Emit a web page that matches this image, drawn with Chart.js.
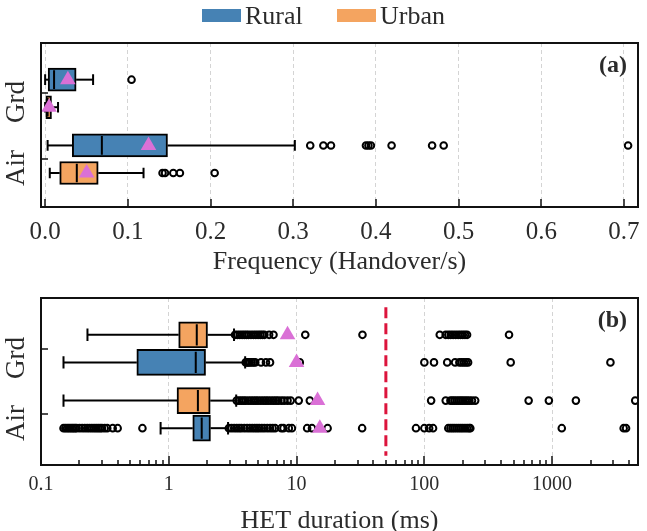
<!DOCTYPE html>
<html lang="en">
<head>
    <meta charset="UTF-8">
    <title>Handover frequency and HET duration</title>
    <script src="https://cdn.jsdelivr.net/npm/chart.js@4.4.1/dist/chart.umd.min.js"></script>
    <style>
        body { margin: 0; background: #fff; }
        #wrap { position: relative; width: 647px; height: 531px; font-family: "Liberation Serif", serif; color: #2b2b2b; }
        #freqChart { position: absolute; left: 0; top: 0; }
        #hetChart { position: absolute; left: 0; top: 275px; }
        .key { position: absolute; top: 9px; width: 39px; height: 13px; }
        .keytext { position: absolute; top: 3px; font-size: 26px; line-height: 26px; }
    </style>
</head>
<body>
<div id="wrap">
    <canvas id="freqChart" width="647" height="282"></canvas>
    <canvas id="hetChart" width="647" height="256"></canvas>
    <div class="key" style="left:202px;background:#4682b4"></div>
    <div class="keytext" style="left:245px">Rural</div>
    <div class="key" style="left:337px;background:#f4a460"></div>
    <div class="keytext" style="left:380px">Urban</div>
</div>
<script>
    // ---- panel (a): handover frequency, rows top to bottom
    const freqRows = ['Grd Rural', 'Grd Urban', 'Air Rural', 'Air Urban'];
    const freqLow = [0.0, 0.0, 0.003, 0.0056];
    const freqQ1 = [0.0036, 0.0008, 0.0328, 0.0176];
    const freqMedian = [0.0108, 0.003, 0.0686, 0.0383];
    const freqQ3 = [0.0375, 0.0077, 0.148, 0.0642];
    const freqHigh = [0.058, 0.0156, 0.302, 0.119];
    const freqMean = [0.0275, 0.0048, 0.125, 0.0502];
    const freqOutGrdRural = [0.1045];
    const freqOutGrdUrban = [];
    const freqOutAirRural = [0.3206, 0.3365, 0.3457, 0.388, 0.391, 0.394, 0.419, 0.468, 0.482, 0.705];
    const freqOutAirUrban = [0.142, 0.145, 0.155, 0.163, 0.205];
    const freqTicks = [0, 0.1, 0.2, 0.3, 0.4, 0.5, 0.6, 0.7];

    // ---- panel (b): HET duration in ms, rows top to bottom
    const hetRows = ['Grd Urban', 'Grd Rural', 'Air Urban', 'Air Rural'];
    const hetLow = [0.231, 0.150, 0.150, 0.863];
    const hetQ1 = [1.195, 0.562, 1.16, 1.54];
    const hetMedian = [1.656, 1.626, 1.69, 1.81];
    const hetQ3 = [2.01, 1.94, 2.11, 2.12];
    const hetHigh = [3.24, 3.96, 3.37, 2.91];
    const hetMean = [8.5, 10.0, 14.6, 15.2];
    const hetOutGrdUrban = [3.3, 3.45, 3.6, 3.75, 3.9, 4.05, 4.2, 4.4, 4.6, 4.8, 5.0, 5.2, 5.4, 5.6, 6.1, 6.6,
        11.7, 32.8, 132, 147, 154, 161, 168, 176, 184, 192, 200, 208, 216, 460];
    const hetOutGrdRural = [4.0, 4.1, 4.2, 4.3, 4.45, 4.6, 4.75, 5.27, 5.76, 6.2, 10.6,
        100, 119, 151, 174, 188, 196, 204, 212, 220, 474, 2860];
    const hetOutAirUrban = [3.4, 3.55, 3.7, 3.85, 4.0, 4.2, 4.4, 4.6, 4.8, 5.0, 5.25, 5.5, 5.75, 6.0, 6.3, 6.6,
        6.9, 7.2, 7.6, 8.0, 8.5, 9.0, 10.4, 12.7, 113, 147, 160, 166, 172, 179, 186, 193, 200, 208, 216, 225,
        236, 250, 655, 943, 1535, 4470];
    const hetOutAirRural = [0.15, 0.155, 0.16, 0.165, 0.17, 0.175, 0.18, 0.185, 0.19, 0.2, 0.21, 0.22, 0.23,
        0.24, 0.25, 0.26, 0.27, 0.28, 0.29, 0.3, 0.315, 0.33, 0.364, 0.398, 0.622,
        2.95, 3.1, 3.25, 3.4, 3.55, 3.7, 3.9, 4.1, 4.3, 4.5, 4.7, 4.9, 5.1, 5.35, 5.6, 5.9, 6.2, 6.5, 6.8,
        7.6, 7.9, 8.7, 9.2, 12.1, 13.2, 17.5, 32.6, 86, 100, 109, 117, 154, 160, 166, 172, 179, 186, 193,
        200, 208, 216, 224, 229, 1190, 3630, 3790];
    const hetDecades = [0.1, 1, 10, 100, 1000];
    const hetThreshold = 50;

    const categories = ['Grd', 'Air'];

    // ---- look
    const RURAL = '#4682b4', URBAN = '#f4a460', MEAN = '#da70d6', TEXT = '#2b2b2b';
    const FONT = '"Liberation Serif", serif';
    const rowPos = [31, 62, 105, 136];      // row centres inside plot area (px from top)
    const catPos = [46.5, 120.5];           // y tick for each category

    function segment(pts, order) {
        return {
            type: 'scatter', showLine: true, order: order,
            data: pts.map(p => ({x: p[0], y: p[1]})),
            borderColor: '#000', borderWidth: 2, pointRadius: 0, pointHoverRadius: 0, fill: false
        };
    }

    function boxDatasets(p) {
        var ds = [];
        ds.push({
            type: 'scatter', order: 0,
            data: p.mean.map((v, i) => ({x: v, y: rowPos[i]})),
            pointStyle: 'triangle', pointRadius: 9, borderWidth: 0,
            backgroundColor: MEAN, borderColor: MEAN
        });
        ds.push({
            type: 'scatter', order: 1,
            data: p.outliers.flatMap((list, i) => list.map(v => ({x: v, y: rowPos[i]}))),
            pointStyle: 'circle', pointRadius: 3.3, borderWidth: 2,
            borderColor: '#000', backgroundColor: 'rgba(0,0,0,0)'
        });
        p.rows.forEach((r, i) => {
            const y = rowPos[i], h = p.boxH / 2 - 1, c = p.capH / 2;
            ds.push(segment([[p.med[i], y - h], [p.med[i], y + h]], 2));
            ds.push(segment([[p.low[i], y], [p.q1[i], y]], 4));
            ds.push(segment([[p.q3[i], y], [p.high[i], y]], 4));
            ds.push(segment([[p.low[i], y - c], [p.low[i], y + c]], 4));
            ds.push(segment([[p.high[i], y - c], [p.high[i], y + c]], 4));
        });
        ds.push({
            type: 'bar', indexAxis: 'y', grouped: false, order: 3,
            data: p.rows.map((r, i) => ({x: [p.q1[i], p.q3[i]], y: rowPos[i]})),
            backgroundColor: p.colors, borderColor: '#000', borderWidth: 2,
            borderSkipped: false, barThickness: p.boxH
        });
        return ds;
    }

    // frame, inward tick marks, rotated category labels and the panel tag
    const framePlugin = {
        id: 'frame',
        afterDraw(chart, args, opts) {
            const ctx = chart.ctx, a = chart.chartArea, sx = chart.scales.x, sy = chart.scales.y;
            ctx.save();
            ctx.strokeStyle = '#111';
            ctx.lineWidth = 2;
            ctx.strokeRect(a.left, a.top, a.right - a.left, a.bottom - a.top);
            ctx.lineWidth = 1.5;
            sx.ticks.forEach(t => {
                const px = Math.round(sx.getPixelForValue(t.value));
                if (px < a.left || px > a.right) return;
                const len = opts.major.includes(t.value) ? opts.majorLen : opts.minorLen;
                ctx.beginPath();
                ctx.moveTo(px, a.bottom);
                ctx.lineTo(px, a.bottom - len);
                ctx.stroke();
            });
            ctx.fillStyle = TEXT;
            categories.forEach((c, i) => {
                const py = Math.round(sy.getPixelForValue(catPos[i]));
                ctx.beginPath();
                ctx.moveTo(a.left, py);
                ctx.lineTo(a.left + 7, py);
                ctx.stroke();
                ctx.save();
                ctx.translate(17, py + 9);
                ctx.rotate(-Math.PI / 2);
                ctx.font = '27px ' + FONT;
                ctx.textAlign = 'center';
                ctx.textBaseline = 'middle';
                ctx.fillText(c, 0, 0);
                ctx.restore();
            });
            ctx.font = 'bold 24px ' + FONT;
            ctx.textAlign = 'right';
            ctx.textBaseline = 'middle';
            ctx.fillText(opts.tag, a.right - 11, a.top + 23);
            ctx.restore();
        }
    };

    function yScale(height) {
        return {
            type: 'linear', min: 0, max: height, reverse: true,
            ticks: {display: false}, grid: {display: false}, border: {display: false},
            afterFit: s => { s.width = 41; }
        };
    }

    // ---- chart (a)
    const freqData = boxDatasets({
        rows: freqRows, low: freqLow, q1: freqQ1, med: freqMedian, q3: freqQ3, high: freqHigh,
        mean: freqMean, outliers: [freqOutGrdRural, freqOutGrdUrban, freqOutAirRural, freqOutAirUrban],
        colors: [RURAL, URBAN, RURAL, URBAN], boxH: 23, capH: 12
    });

    new Chart(document.getElementById('freqChart'), {
        type: 'scatter',
        data: {datasets: freqData},
        plugins: [framePlugin],
        options: {
            responsive: false, animation: false,
            layout: {padding: {top: 43, right: 2, left: 0, bottom: 0}},
            plugins: {
                legend: {display: false}, tooltip: {enabled: false},
                frame: {tag: '(a)', major: freqTicks, majorLen: 8, minorLen: 4}
            },
            scales: {
                x: {
                    type: 'linear', min: -0.005, max: 0.717,
                    afterBuildTicks: s => { s.ticks = freqTicks.map(v => ({value: v})); },
                    afterFit: s => { s.height = 75; s.paddingLeft = 0; s.paddingRight = 0; },
                    ticks: {
                        font: {family: FONT, size: 25}, color: TEXT, padding: 10,
                        autoSkip: false, minRotation: 0, maxRotation: 0,
                        callback: v => v.toFixed(1)
                    },
                    grid: {drawTicks: false, color: '#d4d4d4', lineWidth: 1},
                    border: {display: false, dash: [4, 3]},
                    title: {
                        display: true, text: 'Frequency (Handover/s)', color: TEXT,
                        font: {family: FONT, size: 26}, padding: {top: 0, bottom: 4}
                    }
                },
                y: yScale(164)
            }
        }
    });

    // ---- chart (b)
    const hetData = boxDatasets({
        rows: hetRows, low: hetLow, q1: hetQ1, med: hetMedian, q3: hetQ3, high: hetHigh,
        mean: hetMean, outliers: [hetOutGrdUrban, hetOutGrdRural, hetOutAirUrban, hetOutAirRural],
        colors: [URBAN, RURAL, URBAN, RURAL], boxH: 26, capH: 14
    });
    hetData.push({
        type: 'scatter', showLine: true, order: 5,
        data: [{x: hetThreshold, y: 0}, {x: hetThreshold, y: 167}],
        borderColor: '#dc143c', borderWidth: 3, borderDash: [11, 5], pointRadius: 0
    });

    const hetMax = 4700;
    const hetTicks = hetDecades.flatMap(d => [1, 2, 3, 4, 5, 6, 7, 8, 9].map(k => d * k)).filter(v => v <= hetMax);

    new Chart(document.getElementById('hetChart'), {
        type: 'scatter',
        data: {datasets: hetData},
        plugins: [framePlugin],
        options: {
            responsive: false, animation: false,
            layout: {padding: {top: 23, right: 2, left: 0, bottom: 0}},
            plugins: {
                legend: {display: false}, tooltip: {enabled: false},
                frame: {tag: '(b)', major: hetDecades, majorLen: 9, minorLen: 5}
            },
            scales: {
                x: {
                    type: 'logarithmic', min: 0.1, max: hetMax,
                    afterBuildTicks: s => { s.ticks = hetTicks.map(v => ({value: v})); },
                    afterFit: s => { s.height = 66; s.paddingLeft = 0; s.paddingRight = 0; },
                    ticks: {
                        font: {family: FONT, size: 20}, color: TEXT, padding: 8,
                        autoSkip: false, minRotation: 0, maxRotation: 0,
                        callback: v => hetDecades.includes(v) ? String(v) : ''
                    },
                    grid: {
                        drawTicks: false, lineWidth: 1,
                        color: c => (c.tick && hetDecades.includes(c.tick.value)) ? '#d4d4d4' : 'rgba(0,0,0,0)'
                    },
                    border: {display: false, dash: [4, 3]},
                    title: {
                        display: true, text: 'HET duration (ms)', color: TEXT,
                        font: {family: FONT, size: 26}, padding: {top: 0, bottom: -6}
                    }
                },
                y: yScale(167)
            }
        }
    });
</script>
</body>
</html>
